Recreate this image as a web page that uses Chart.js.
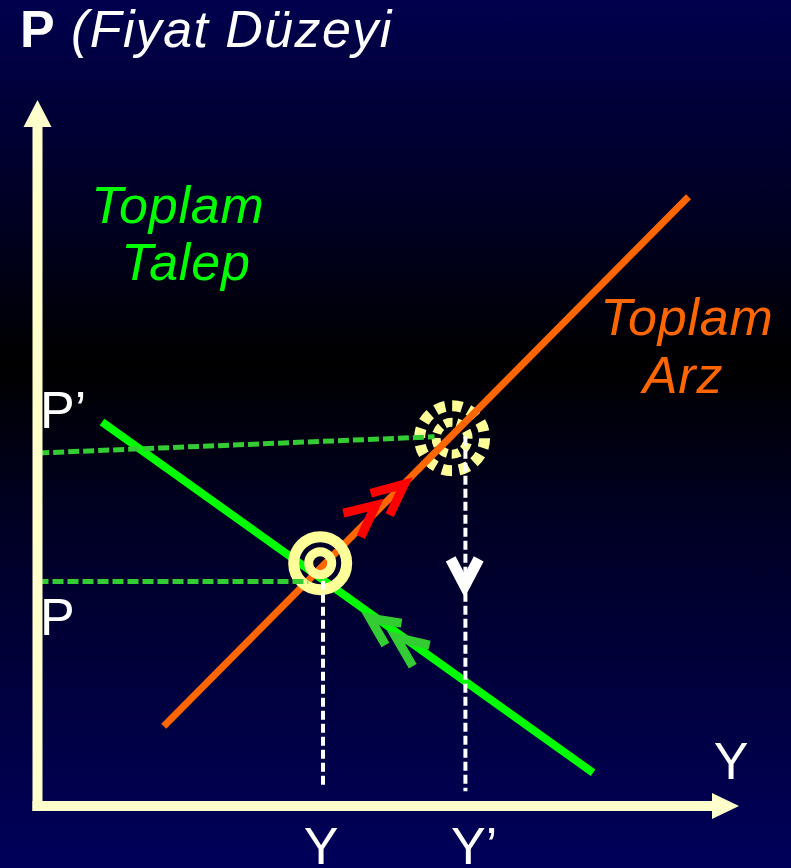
<!DOCTYPE html>
<html>
<head>
<meta charset="utf-8">
<script src="https://cdn.jsdelivr.net/npm/chart.js@4.4.1/dist/chart.umd.min.js"></script>
<style>
  html, body {
    margin: 0;
    padding: 0;
    width: 791px;
    height: 868px;
    overflow: hidden;
    background: linear-gradient(to bottom, #00004e 0%, #000022 25%, #000000 42%, #000024 60%, #00005a 100%);
  }
  #wrap { width: 791px; height: 868px; }
</style>
</head>
<body>
<div id="wrap"><canvas id="adas" width="791" height="868"></canvas></div>
<script>
// values in model units: output on x (0-100), price level on y (0-100)
const demandCurve = [[9.2, 54.4], [79.2, 4.7]];      // Toplam Talep
const supplyCurve = [[18.0, 11.3], [92.8, 86.3]];    // Toplam Arz
const priceGuideP = [[0, 31.8], [38.6, 31.8]];
const priceGuidePNew = [[0.1, 50.0], [56.6, 52.3]];
const outputGuideY = [[40.7, 31.9], [40.7, 3.0]];
const outputGuideYNew = [[61.0, 52.3], [61.0, 2.1]];
const equilibriumOld = [40.3, 34.4];
const equilibriumNew = [59.1, 52.1];

// direction marks
const supplyArrow1 = [[47.5, 44.3], [52.3, 45.6], [50.2, 41.2]];
const supplyArrow2 = [[43.6, 41.5], [48.2, 42.6], [46.1, 38.1]];
const demandArrow1 = [[51.9, 25.9], [47.4, 26.6], [49.6, 22.8]];
const demandArrow2 = [[55.9, 22.8], [51.1, 23.9], [53.5, 19.8]];
const outputArrow = [[58.9, 35.0], [60.9, 31.2], [62.9, 35.0]];

// labels
const priceLabels = ['P', 'P\u2019'];
const outputLabels = ['Y', 'Y\u2019'];
const titleBold = 'P';
const titleItalic = '(Fiyat D\u00fczeyi';
const demandLabel = ['Toplam', 'Talep'];
const supplyLabel = ['Toplam', 'Arz'];
const xAxisLabel = 'Y';

const toXY = pts => pts.map(p => ({ x: p[0], y: p[1] }));

function lineSet(pts, color, width, order, dash) {
    return {
        data: toXY(pts),
        showLine: true,
        borderColor: color,
        borderWidth: width,
        borderDash: dash || [],
        borderCapStyle: 'butt',
        borderJoinStyle: 'miter',
        pointRadius: 0,
        tension: 0,
        fill: false,
        order: order
    };
}

function ringSet(pt, radius, width, order) {
    return {
        data: toXY([pt]),
        showLine: false,
        pointRadius: radius,
        pointBorderWidth: width,
        pointBorderColor: '#ffff99',
        pointBackgroundColor: 'rgba(0,0,0,0)',
        order: order
    };
}

const FONT = '"Liberation Sans", Arial, Helvetica, sans-serif';

const decorPlugin = {
    id: 'decor',
    beforeDatasetsDraw(chart) {
        // dashed rings at the new equilibrium (under the supply line)
        const ctx = chart.ctx;
        const xs = chart.scales.x, ys = chart.scales.y;
        const cx = xs.getPixelForValue(equilibriumNew[0]);
        const cy = ys.getPixelForValue(equilibriumNew[1]);
        ctx.save();
        ctx.strokeStyle = '#ffff99';
        ctx.lineCap = 'butt';
        ctx.lineWidth = 11;
        ctx.setLineDash([10, 7]);
        ctx.beginPath();
        ctx.arc(cx, cy, 32.5, 0, Math.PI * 2);
        ctx.stroke();
        ctx.lineWidth = 9;
        ctx.setLineDash([8, 4.5]);
        ctx.beginPath();
        ctx.arc(cx, cy, 16, 0.3, 0.3 + Math.PI * 2);
        ctx.stroke();
        ctx.restore();
    },
    afterDatasetsDraw(chart) {
        // axes with arrow heads
        const ctx = chart.ctx;
        const xs = chart.scales.x, ys = chart.scales.y;
        const ox = xs.getPixelForValue(0), oy = ys.getPixelForValue(0);
        const top = ys.getPixelForValue(100), right = xs.getPixelForValue(100);
        ctx.save();
        ctx.fillStyle = '#ffffcc';
        ctx.fillRect(ox - 5, top + 25, 10, oy + 5 - (top + 25));
        ctx.fillRect(ox - 5, oy - 5, right - 25 - (ox - 5), 10);
        ctx.beginPath();
        ctx.moveTo(ox, top);
        ctx.lineTo(ox - 14, top + 27);
        ctx.lineTo(ox + 14, top + 27);
        ctx.closePath();
        ctx.fill();
        ctx.beginPath();
        ctx.moveTo(right, oy);
        ctx.lineTo(right - 27, oy - 13);
        ctx.lineTo(right - 27, oy + 13);
        ctx.closePath();
        ctx.fill();
        ctx.restore();
    },
    afterDraw(chart) {
        const ctx = chart.ctx;
        const xs = chart.scales.x;
        ctx.save();
        ctx.textBaseline = 'alphabetic';

        // title
        ctx.fillStyle = '#ffffff';
        ctx.textAlign = 'left';
        ctx.font = 'bold 52px ' + FONT;
        ctx.fillText(titleBold, 20, 47);
        ctx.font = 'italic 52px ' + FONT;
        ctx.letterSpacing = '1.4px';
        ctx.fillText(titleItalic, 71, 47);

        // curve names
        ctx.letterSpacing = '0.8px';
        ctx.textAlign = 'center';
        ctx.fillStyle = '#00ff00';
        ctx.fillText(demandLabel[0], 178, 223);
        ctx.fillText(demandLabel[1], 186, 280);
        ctx.fillStyle = '#ff6600';
        ctx.fillText(supplyLabel[0], 687, 335);
        ctx.fillText(supplyLabel[1], 683, 393);
        ctx.letterSpacing = '0px';

        // price labels
        ctx.font = '52px ' + FONT;
        ctx.fillStyle = '#ffffff';
        ctx.textAlign = 'left';
        ctx.fillText(priceLabels[1], 40, 428);
        ctx.fillText(priceLabels[0], 40, 635);

        // output labels under the guides
        const half = ctx.measureText('Y').width / 2;
        ctx.fillText(outputLabels[0], xs.getPixelForValue(outputGuideY[0][0]) - half - 2, 864);
        ctx.fillText(outputLabels[1], xs.getPixelForValue(outputGuideYNew[0][0]) - half + 3, 864);

        // axis name
        ctx.textAlign = 'center';
        ctx.fillText(xAxisLabel, 731, 779);
        ctx.restore();
    }
};

const datasets = [
    lineSet(demandCurve, '#00ff00', 8, 20),
    lineSet(supplyCurve, '#ff6600', 7, 19),
    ringSet(equilibriumOld, 26.5, 11, 18),
    ringSet(equilibriumOld, 11.5, 9, 17),
    lineSet(priceGuidePNew, '#33cc33', 5, 16, [11, 4]),
    lineSet(priceGuideP, '#33cc33', 5, 15, [11, 4]),
    lineSet(outputGuideY, '#ffffff', 4, 14, [9, 4]),
    lineSet(outputGuideYNew, '#ffffff', 4, 13, [9, 4]),
    lineSet(supplyArrow1, '#ff0000', 9, 12),
    lineSet(supplyArrow2, '#ff0000', 9, 11),
    lineSet(demandArrow1, '#33cc33', 9, 10),
    lineSet(demandArrow2, '#33cc33', 9, 9),
    lineSet(outputArrow, '#ffffff', 11, 8)
];

new Chart(document.getElementById('adas').getContext('2d'), {
    type: 'scatter',
    data: { datasets: datasets },
    options: {
        responsive: false,
        animation: false,
        events: [],
        layout: { padding: { left: 32, right: 52, top: 100, bottom: 62 } },
        scales: {
            x: { type: 'linear', min: 0, max: 100, display: false },
            y: { type: 'linear', min: 0, max: 100, display: false }
        },
        plugins: {
            legend: { display: false },
            tooltip: { enabled: false }
        }
    },
    plugins: [decorPlugin]
});
</script>
</body>
</html>
